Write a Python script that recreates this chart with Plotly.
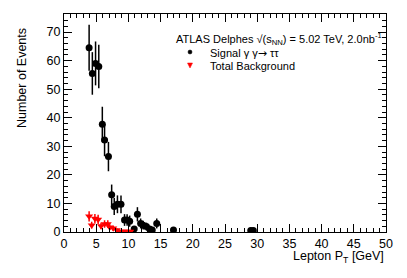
import numpy as np
import plotly.graph_objects as go

# Signal (black circles)
sig_x = [3.9, 4.4, 4.9, 5.4, 5.95, 6.3, 6.9, 7.4, 7.8, 8.3, 8.85, 9.4, 9.8, 10.2,
         10.9, 11.4, 11.9, 12.3, 12.8, 13.3, 13.7, 14.4, 17.0, 29.0, 29.4]
sig_y = [64.5, 55.5, 59.0, 57.9, 37.7, 32.2, 26.4, 13.0, 8.9, 9.7, 9.7, 4.2, 4.2, 3.8,
         1.05, 6.2, 3.0, 2.4, 1.9, 1.05, 0.7, 3.0, 0.7, 0.5, 0.5]
sig_err = list(np.sqrt(sig_y))

# Total background (red down triangles)
bkg_x = [3.9, 4.3, 4.8, 5.3, 5.75, 6.3, 6.8, 7.1, 7.65, 8.2, 8.7, 9.1, 9.5, 9.9, 10.3]
bkg_y = [5.5, 2.4, 4.7, 4.4, 2.1, 2.8, 2.8, 1.7, 1.3, 0.7, 0.2, 0.2, 0.2, 0.2, 0.2]
bkg_err = [1.8, 1.2, 1.6, 1.6, 1.1, 1.3, 1.3, 1.0, 0.9, 0.6, 0.3, 0.3, 0.3, 0.3, 0.3]

legend_title = "ATLAS Delphes √(s<sub>NN</sub>) = 5.02 TeV, 2.0nb<sup>-1</sup>"
sig_label = "Signal γ γ<span style='font-family:DejaVu Sans'>→</span> ττ"
bkg_label = "Total Background"

FONT = "Liberation Sans, Arial, sans-serif"

W, H = 407, 278
L, R, T, B = 64, 21, 14, 46
pw, ph = W - L - R, H - T - B


def px(x):
    return (x - L) / pw


def py(y):
    return (H - B - y) / ph


fig = go.Figure()
fig.add_trace(go.Scatter(
    x=sig_x, y=sig_y, mode="markers", name="Signal",
    marker=dict(symbol="circle", size=7, color="black"),
    error_y=dict(type="data", array=sig_err, color="black", thickness=1.5, width=0),
))
fig.add_trace(go.Scatter(
    x=bkg_x, y=bkg_y, mode="markers", name="Total Background",
    marker=dict(symbol="triangle-down", size=7, color="#ff0000"),
    error_y=dict(type="data", array=bkg_err, color="#ff0000", thickness=1.5, width=0),
))

axis_common = dict(
    showline=True, linecolor="black", linewidth=1, mirror="allticks",
    ticks="inside", ticklen=8, tickcolor="black", tickwidth=1,
    showgrid=False, zeroline=False,
    tickfont=dict(family=FONT, size=12.5, color="black"),
)

fig.update_xaxes(range=[0, 50], dtick=5, tick0=0,
                 minor=dict(dtick=1, ticks="inside", ticklen=4, tickcolor="black", showgrid=False),
                 **axis_common)
fig.update_yaxes(range=[0, 76.3], dtick=10, tick0=0,
                 minor=dict(dtick=2, ticks="inside", ticklen=4, tickcolor="black", showgrid=False),
                 **axis_common)

fig.add_annotation(xref="paper", yref="paper", x=px(22), y=py(78),
                   text="Number of Events", textangle=-90, showarrow=False,
                   xanchor="center", yanchor="middle",
                   font=dict(family=FONT, size=12.5, color="black"))
fig.add_annotation(xref="paper", yref="paper", x=1.0, y=py(257),
                   text="Lepton P<sub>T</sub> [GeV]", showarrow=False,
                   xanchor="right", yanchor="middle",
                   font=dict(family=FONT, size=12.5, color="black"))

# custom legend (ROOT style)
leg_font = dict(family=FONT, size=11, color="black")
fig.add_annotation(xref="paper", yref="paper", x=px(174), y=py(39),
                   text=legend_title, showarrow=False, xanchor="left", yanchor="middle",
                   font=leg_font)
fig.add_annotation(xref="paper", yref="paper", x=px(208), y=py(53),
                   text=sig_label, showarrow=False, xanchor="left", yanchor="middle",
                   font=leg_font)
fig.add_annotation(xref="paper", yref="paper", x=px(208), y=py(66),
                   text=bkg_label, showarrow=False, xanchor="left", yanchor="middle",
                   font=leg_font)
fig.add_shape(type="circle", xref="paper", yref="paper",
              x0=px(188), x1=px(192), y0=py(50), y1=py(54),
              fillcolor="black", line=dict(color="black", width=0.5))
fig.add_shape(type="path", xref="paper", yref="paper",
              path=f"M {px(187.5)} {py(63)} L {px(192.5)} {py(63)} L {px(190)} {py(68)} Z",
              fillcolor="#ff0000", line=dict(color="#ff0000", width=0.5))

fig.update_layout(
    width=W, height=H,
    margin=dict(l=L, r=R, t=T, b=B, autoexpand=False),
    paper_bgcolor="white", plot_bgcolor="white",
    showlegend=False,
)

fig.write_html("out.html",
               config=dict(displayModeBar=False),
               post_script="document.body.style.margin='0';document.body.style.padding='0';")
